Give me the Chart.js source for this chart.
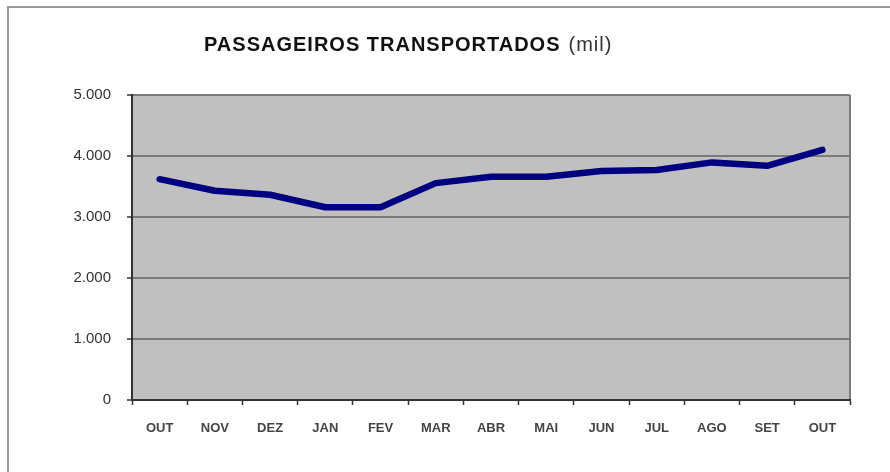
<!DOCTYPE html>
<html>
<head>
<meta charset="utf-8">
<script src="https://cdn.jsdelivr.net/npm/chart.js@4"></script>
<style>
  html, body { margin: 0; padding: 0; background: #fff; overflow: hidden; }
  #frame { position: absolute; left: 7px; top: 6px; width: 1000px; height: 600px; border: 2px solid #9a9a9a; }
  #chart { position: absolute; left: 0; top: 0; }
</style>
</head>
<body>
<div id="frame"></div>
<canvas id="chart" width="890" height="472"></canvas>
<script>
const months = ['OUT', 'NOV', 'DEZ', 'JAN', 'FEV', 'MAR', 'ABR', 'MAI', 'JUN', 'JUL', 'AGO', 'SET', 'OUT'];
const passengers = [3620, 3430, 3365, 3160, 3160, 3555, 3660, 3660, 3755, 3770, 3895, 3840, 4100];
const yTicks = [0, 1000, 2000, 3000, 4000, 5000];

const fmt = v => String(v).replace(/\B(?=(\d{3})+(?!\d))/g, '.');

const plotBg = {
    id: 'plotBg',
    beforeDraw(chart) {
        const { ctx, chartArea: a } = chart;
        ctx.save();
        ctx.fillStyle = '#c0c0c0';
        ctx.fillRect(a.left, a.top, a.right - a.left, a.bottom - a.top);
        ctx.strokeStyle = '#7a7a7a';
        ctx.lineWidth = 2;
        ctx.beginPath();
        ctx.moveTo(a.right, a.top);
        ctx.lineTo(a.right, a.bottom);
        ctx.stroke();
        ctx.restore();
    },
};

const titlePlugin = {
    id: 'mixedTitle',
    afterDraw(chart) {
        const ctx = chart.ctx;
        ctx.save();
        ctx.fillStyle = '#111';
        ctx.textBaseline = 'alphabetic';
        ctx.textAlign = 'left';
        ctx.letterSpacing = '1px';
        ctx.font = 'bold 20px Arial, "Liberation Sans", sans-serif';
        const main = 'PASSAGEIROS TRANSPORTADOS';
        ctx.fillText(main, 204, 51);
        const w = ctx.measureText(main).width;
        ctx.font = '20px Arial, "Liberation Sans", sans-serif';
        ctx.fillStyle = '#333';
        ctx.fillText('(mil)', 204 + w + 8, 51);
        ctx.restore();
    },
};

new Chart(document.getElementById('chart'), {
    type: 'line',
    data: {
        labels: months,
        datasets: [
            {
                data: passengers,
                borderColor: '#000080',
                borderWidth: 6.5,
                tension: 0,
                pointRadius: 0,
                borderJoinStyle: 'round',
                borderCapStyle: 'round',
                fill: false,
            },
        ],
    },
    options: {
        responsive: false,
        animation: false,
        layout: { padding: { top: 95, right: 40, left: 0, bottom: 0 } },
        plugins: {
            legend: { display: false },
            tooltip: { enabled: false },
            title: { display: false },
        },
        scales: {
            x: {
                type: 'category',
                offset: true,
                afterFit: s => { s.height = 72; },
                grid: {
                    offset: true,
                    drawOnChartArea: false,
                    tickLength: 5,
                    tickColor: '#333',
                    tickWidth: 1.5,
                },
                border: { color: '#333', width: 2 },
                ticks: {
                    color: '#444',
                    padding: 16,
                    maxRotation: 0,
                    autoSkip: false,
                    font: { family: 'Arial, "Liberation Sans", sans-serif', size: 13, weight: 'bold' },
                },
            },
            y: {
                min: yTicks[0],
                max: yTicks[yTicks.length - 1],
                afterFit: s => { s.width = 132; },
                afterBuildTicks: s => { s.ticks = yTicks.map(v => ({ value: v })); },
                grid: {
                    color: '#7a7a7a',
                    lineWidth: 2,
                    tickLength: 5,
                    tickColor: '#333',
                    tickWidth: 1.5,
                },
                border: { color: '#333', width: 2 },
                ticks: {
                    color: '#333',
                    padding: 16,
                    callback: v => fmt(v),
                    font: { family: 'Arial, "Liberation Sans", sans-serif', size: 15 },
                },
            },
        },
    },
    plugins: [plotBg, titlePlugin],
});
</script>
</body>
</html>
